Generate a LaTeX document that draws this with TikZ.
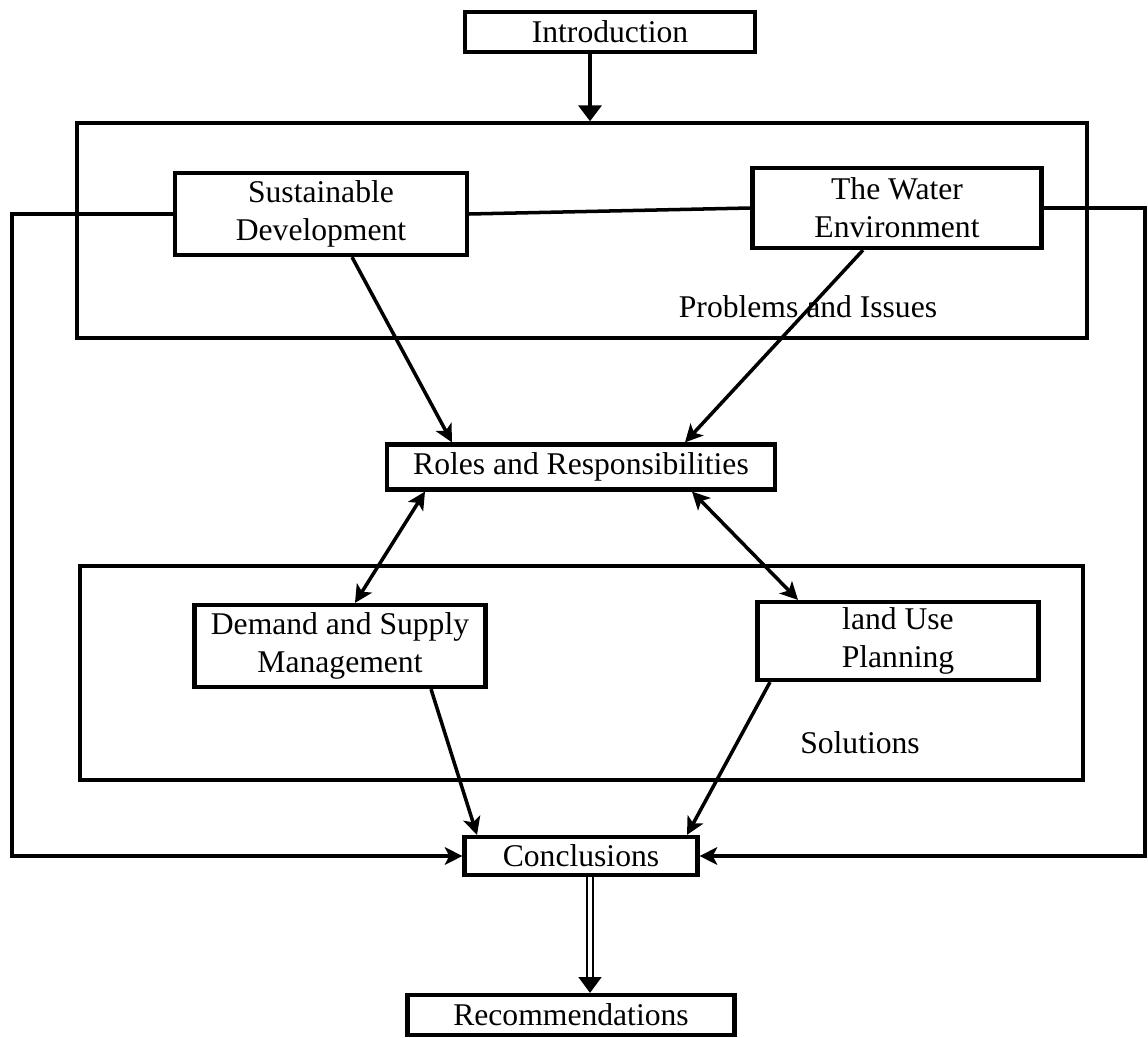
\documentclass[tikz,border=0pt]{standalone}
\usepackage{fontspec}
\setmainfont{Liberation Serif}
\usetikzlibrary{arrows.meta,calc}

\begin{document}
\begin{tikzpicture}[x=0.02cm,y=-0.02cm,>={Stealth[length=10pt,width=10pt,inset=2.5pt]}]
\tikzset{every node/.style={font=\fontsize{18}{21.6}\selectfont},
         box/.style={draw,line width=2.4pt,align=center,inner sep=0pt},
         frame/.style={draw,line width=2pt,inner sep=0pt},
         link/.style={line width=2pt},
         bigtip/.style={-{Triangle[length=9pt,width=13pt]}}}
\useasboundingbox (0,0) rectangle (1148,1037);
\node[frame,minimum width=20.2cm,minimum height=4.3cm] (prob) at (582,230.5) {};
\node[frame,minimum width=20.06cm,minimum height=4.28cm] (sol) at (581.5,673) {};
\node[box,minimum width=5.8cm,minimum height=0.8cm] (intro) at (610,32) {Introduction};
\node[box,minimum width=5.84cm,minimum height=1.64cm] (sd) at (321,214) {Sustainable\\Development};
\node[box,minimum width=5.78cm,minimum height=1.6cm] (we) at (897,208) {The Water\\Environment};
\node[box,minimum width=7.76cm,minimum height=0.9cm] (roles) at (581,467) {Roles and Responsibilities};
\node[box,minimum width=5.82cm,minimum height=1.64cm] (dsm) at (340,646) {Demand and Supply\\Management};
\node[box,minimum width=5.62cm,minimum height=1.56cm] (lup) at (898,641) {land Use\\Planning};
\node[box,minimum width=4.66cm,minimum height=0.76cm] (concl) at (581,856) {Conclusions};
\node[box,minimum width=6.54cm,minimum height=0.8cm] (rec) at (571,1015) {Recommendations};
\node (probtxt) at (808,307) {Problems and Issues};
\node (soltxt) at (860,743) {Solutions};
\coordinate (lft) at (12,215);
\coordinate (rgt) at (1145,210);
\draw[link,bigtip] ($(intro.south)+(-20,0)$) -- ($(prob.north)+(8,0)$);
\draw[link] (sd.east) -- (we.west);
\draw[link,->] (sd.west) -- (sd.west -| lft) |- (concl.west);
\draw[link,->] (we.east) -- (we.east -| rgt) |- (concl.east);
\draw[link,->] ($(sd.south)+(31,0)$) -- ($(roles.north)+(-129,0)$);
\draw[link,->] ($(we.south)+(-34,0)$) -- ($(roles.north)+(104,0)$);
\draw[link,<->] ($(roles.south)+(-156,0)$) -- ($(dsm.north)+(15,0)$);
\draw[link,<->] ($(roles.south)+(111,0)$) -- ($(lup.north)+(-100,0)$);
\draw[link,->] ($(dsm.south)+(91,0)$) -- ($(concl.north)+(-104,0)$);
\draw[link,->] ($(lup.south)+(-128,0)$) -- ($(concl.north)+(106,0)$);
\draw[double,double distance=2pt,line width=1.1pt,shorten >=8pt] ($(concl.south)+(9,0)$) -- ($(rec.north)+(19,0)$);
\draw[line width=1.1pt,bigtip] ($(rec.north)+(19,-12)$) -- ($(rec.north)+(19,0)$);
\end{tikzpicture}
\end{document}
